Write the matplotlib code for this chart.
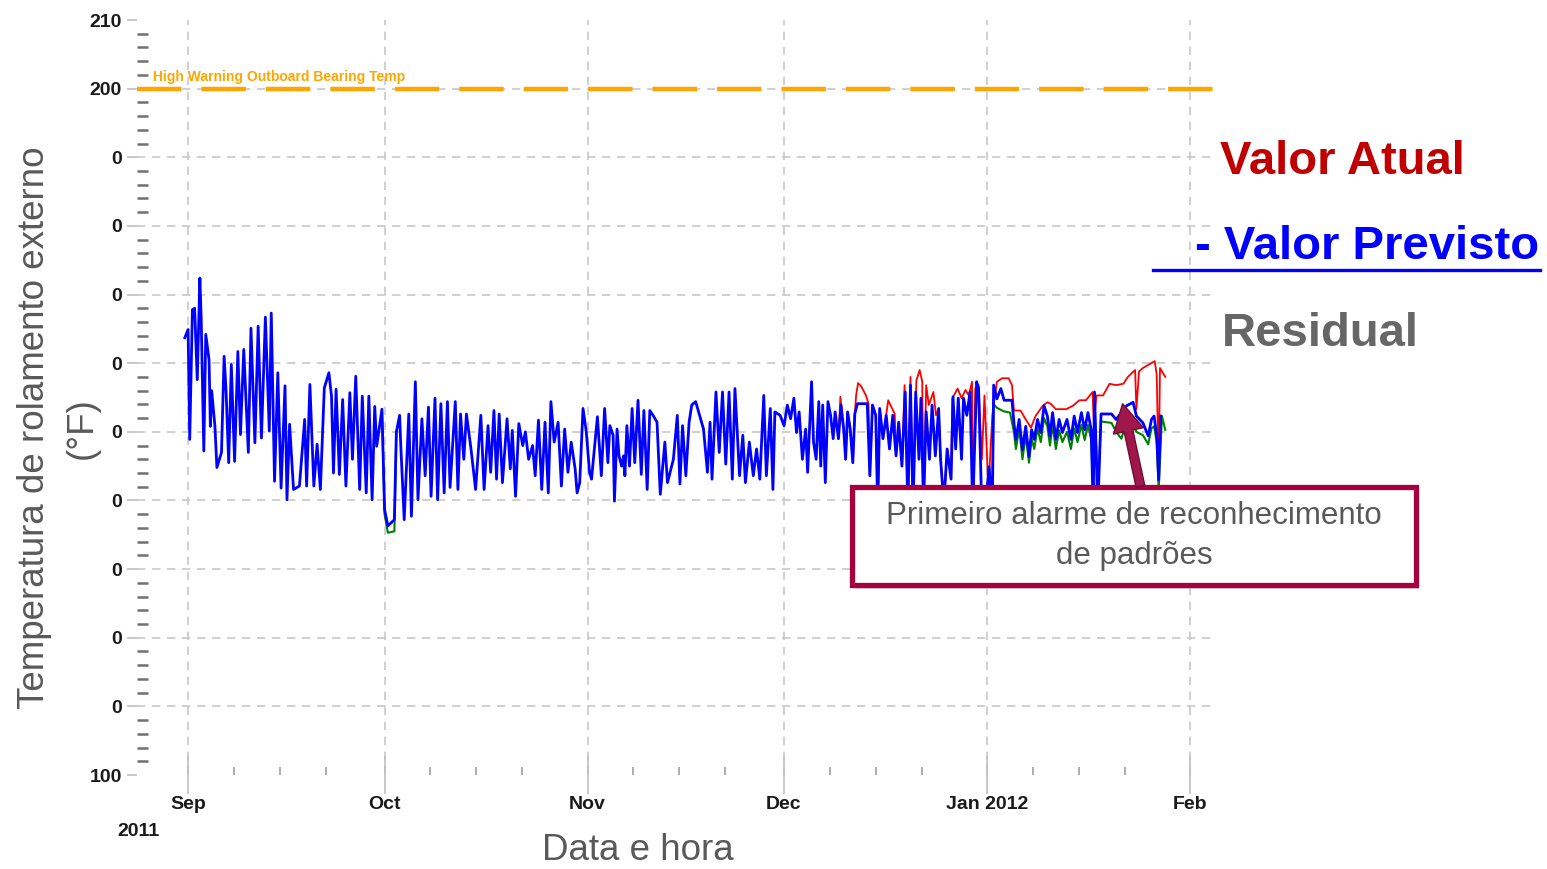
import matplotlib
matplotlib.use("Agg")
import matplotlib.pyplot as plt
from matplotlib.patches import Rectangle, FancyArrowPatch
from matplotlib.lines import Line2D
from matplotlib.ticker import FixedLocator, FixedFormatter

# days counted from 1 Sep 2011
month_starts = [0, 30, 61, 91, 122, 153]
month_labels = ["Sep", "Oct", "Nov", "Dec", "Jan 2012", "Feb"]
y_ticks = [100, 110, 120, 130, 140, 150, 160, 170, 180, 190, 200, 210]
y_labels = ["100", "0", "0", "0", "0", "0", "0", "0", "0", "0", "200", "210"]
warning_level = 200

# predicted value (blue)
blue_days = [
    -0.5, 0.0, 0.25, 0.66, 1.0, 1.4, 1.8, 2.0, 2.4, 2.7, 3.2, 3.4, 3.6, 4.1, 4.4, 5.1, 5.5, 5.8,
    6.2, 6.6, 7.1, 7.6, 8.0, 8.5, 9.2, 9.6, 10.2, 10.7, 11.2, 11.8, 12.4, 12.7, 13.2, 13.7, 14.2,
    14.8, 15.1, 15.5, 16.1, 17.0, 17.8, 18.1, 18.6, 19.2, 19.7, 20.2, 20.8, 21.5, 21.9, 22.2, 22.6,
    23.1, 23.6, 24.1, 24.7, 25.1, 25.6, 26.2, 26.6, 27.2, 27.6, 28.1, 28.5, 28.8, 29.6,
    30.0, 30.5, 31.5, 31.8, 32.3, 32.5, 33.0, 33.7, 34.1, 34.7, 35.1, 35.7, 36.2, 36.7, 37.1, 37.7,
    38.1, 38.6, 39.1, 39.6, 40.0, 40.8, 41.2, 41.6, 42.1, 42.5, 43.2, 43.9, 44.7, 45.2, 45.8, 46.2,
    46.7, 47.1, 47.5, 48.0, 48.7, 49.2, 49.5, 50.0, 50.5, 51.1, 51.5, 52.0, 52.6, 53.0, 53.5, 54.0,
    54.5, 55.0, 55.4, 55.9, 56.5, 57.0, 57.5, 58.0, 58.5, 59.1, 59.4, 59.8, 60.3, 60.8, 61.3, 61.6,
    62.5, 63.1, 63.6, 64.1, 64.4, 64.9, 65.1, 65.5, 65.8, 66.2, 66.5, 66.7, 67.0, 67.4, 67.8, 68.2,
    68.7, 69.2, 69.6, 70.1, 70.5, 71.0, 71.6, 72.1, 72.8, 73.2, 73.6, 74.1, 74.7, 75.1, 75.5, 76.0,
    76.5, 76.9, 77.5, 78.1, 78.7, 79.3, 79.7, 80.0, 80.6, 81.1, 81.6, 82.1, 82.6, 83.1, 83.5, 84.2,
    84.7, 85.1, 85.7, 86.3, 86.8, 87.3, 87.9, 88.3, 88.9, 89.3, 89.6, 90.4,
    91.0, 91.5, 92.0, 92.5, 92.9, 93.3, 93.8, 94.3, 94.6, 95.2, 95.5, 95.9, 96.3, 96.6, 96.9, 97.3,
    97.7, 98.1, 98.5, 98.8, 99.3, 99.7, 100.1, 100.4, 100.7, 101.1, 101.5, 101.8, 102.2, 103.7,
    104.1, 104.5, 105.0, 105.3, 105.6, 106.1, 106.6, 107.1, 107.6, 108.1, 108.5, 109.0, 109.5,
    109.9, 110.3, 110.7, 111.1, 111.6, 111.9, 112.3, 112.7, 113.2, 113.6, 114.1, 114.6, 114.9,
    115.4, 115.9, 116.5, 116.8, 117.2, 117.6, 118.1, 118.4, 118.9, 119.4, 119.8, 120.4,
    120.7, 121.2, 121.7, 122.3, 122.8, 123.0, 123.5, 124.1, 124.6, 125.8, 126.1, 126.4, 126.9,
    127.4, 127.9, 128.4, 128.8, 129.2, 129.7, 130.2, 130.7, 131.2, 131.6, 132.0, 132.5, 133.0,
    133.5, 134.2, 134.8, 135.3, 135.8, 136.4, 136.9, 137.4, 137.9, 138.2, 138.4, 138.9, 139.4,
    141.0, 141.7, 143.3, 144.3, 144.8, 145.8, 146.6, 147.1, 147.5, 147.9, 148.2, 148.5,
]
blue_vals = [
    163.7, 164.9, 148.9, 167.8, 168.0, 157.6, 172.4, 166.6, 147.2, 164.2, 160.5, 150.8, 156.0, 150.8, 144.8, 147.0, 161.0, 156.0,
    145.5, 159.8, 145.7, 161.7, 149.6, 162.0, 147.0, 165.1, 148.4, 165.4, 149.1, 166.7, 150.1, 167.3, 142.8, 158.6, 141.8,
    156.7, 140.1, 151.1, 141.6, 142.1, 151.8, 142.1, 156.9, 142.1, 148.2, 141.6, 156.4, 158.6, 155.2, 144.0, 156.2,
    143.8, 154.7, 142.1, 155.7, 146.0, 158.1, 141.6, 155.2, 141.1, 155.2, 140.1, 153.7, 147.9, 153.3,
    138.7, 136.3, 137.2, 150.0, 152.4, 147.5, 137.2, 152.6, 137.7, 157.3, 140.1, 151.9, 143.6, 153.6, 140.6, 154.9,
    140.1, 154.1, 141.1, 154.4, 141.9, 154.4, 141.6, 152.6, 146.0, 152.6, 147.5, 141.6, 152.4, 141.6, 150.9, 144.1,
    153.1, 143.1, 152.6, 142.6, 151.9, 144.6, 150.2, 140.6, 151.2, 148.0, 150.0, 146.0, 148.0, 143.6, 151.7, 141.6,
    151.4, 141.1, 154.4, 148.5, 151.4, 142.1, 150.4, 144.1, 148.5, 144.6, 141.1, 142.6, 153.4, 150.0, 144.1, 143.1,
    152.2, 143.6, 153.4, 145.5, 150.9, 149.5, 139.9, 150.4, 146.5, 145.0, 146.5, 143.6, 150.9, 145.0, 153.4, 145.5,
    154.6, 143.8, 153.1, 141.6, 153.1, 152.4, 151.4, 140.9, 148.5, 142.6, 144.1, 146.0, 152.4, 142.4, 150.9, 143.6,
    151.4, 153.9, 154.4, 152.4, 150.4, 144.1, 151.4, 143.1, 155.8, 147.0, 155.8, 145.3, 155.8, 143.1, 156.3, 143.6,
    149.5, 142.6, 148.5, 143.6, 147.5, 143.1, 155.3, 143.6, 153.4, 141.6, 152.9, 152.4,
    150.9, 153.9, 151.9, 154.9, 149.9, 152.9, 146.0, 150.4, 144.1, 157.3, 148.5, 146.0, 154.4, 145.0, 153.9, 142.6,
    154.4, 152.4, 149.0, 152.9, 149.0, 153.9, 150.4, 146.0, 152.9, 150.4, 145.5, 152.6, 154.1, 154.1,
    143.6, 153.9, 152.4, 138.5, 153.4, 149.0, 152.4, 147.5, 152.4, 146.5, 151.4, 145.0, 155.8,
    139.0, 156.8, 138.5, 155.8, 146.0, 154.9, 139.0, 152.9, 146.0, 153.9, 146.5, 153.4, 146.0,
    139.5, 147.5, 143.1, 155.1, 147.5, 154.9, 146.0, 154.9, 152.4, 155.8, 138.5, 157.3,
    156.3, 138.5, 138.5, 144.9, 138.5, 156.8, 154.8, 156.3, 154.6, 154.6, 151.3, 148.9, 151.8,
    147.4, 150.8, 146.4, 150.3, 148.9, 151.8, 149.9, 153.8, 152.3, 149.4, 152.8, 148.9, 151.8,
    149.9, 151.8, 148.9, 152.3, 149.9, 152.8, 150.3, 152.8, 150.3, 138.5, 155.8, 138.5, 152.6,
    152.6, 151.8, 153.8, 154.3, 152.3, 151.3, 149.4, 151.8, 152.3, 149.4, 143.0, 152.3,
]

# actual value (red), where it separates from the prediction
red_days = [
    99.3, 99.6, 100.1, 100.4, 100.7, 101.1, 101.5, 101.8, 102.0, 102.3, 102.8, 103.5, 103.9, 104.1,
    104.5, 105.0, 105.3, 105.6, 106.1, 106.9, 107.9, 108.1, 108.5, 109.0, 109.4, 109.9, 110.3,
    110.7, 111.2, 111.7, 112.1, 112.3, 112.7, 113.1, 113.8, 114.2, 114.6, 114.9, 115.4, 115.9,
    116.5, 116.7, 117.5, 118.1, 118.7, 119.2, 119.7, 119.8, 120.2, 120.7, 121.2, 121.6, 122.2,
    122.8, 123.5, 124.3, 125.3, 125.8, 126.1, 127.1, 127.9, 128.7, 129.4, 130.5, 131.2, 131.7,
    132.5, 134.1, 135.1, 136.1, 137.1, 138.1, 138.3, 138.7, 139.7, 140.7, 141.7, 142.8, 143.5,
    144.6, 144.8, 145.2, 145.8, 147.6, 147.9, 148.2, 148.4, 149.2,
]
red_vals = [
    149.0, 155.1, 150.4, 146.0, 152.9, 150.4, 145.5, 152.6, 155.3, 157.1, 156.6, 155.3, 154.1, 143.6,
    153.9, 152.4, 138.5, 153.4, 149.0, 154.6, 152.6, 146.5, 151.4, 145.0, 156.8, 139.0, 158.0,
    138.5, 157.5, 159.0, 157.3, 139.0, 156.8, 153.9, 155.8, 152.4, 153.4, 146.0, 139.5, 147.5,
    143.1, 154.9, 156.3, 154.9, 156.1, 155.3, 157.3, 138.5, 156.3, 156.8, 146.0, 155.3, 141.6,
    152.4, 157.3, 157.8, 157.8, 156.8, 153.1, 153.1, 151.8, 150.6, 152.3, 153.8, 154.3, 154.1,
    153.3, 153.3, 153.8, 154.6, 154.6, 155.8, 151.3, 155.3, 155.3, 157.0, 156.8, 157.0, 158.0,
    159.0, 153.3, 158.8, 159.3, 160.3, 158.3, 143.9, 159.3, 158.0,
]

# green series, visible below the blue one (two stretches)
green_oct_days = [29.6, 30.0, 30.5, 31.5, 31.8]
green_oct_vals = [153.0, 138.0, 135.3, 135.5, 150.0]
green_jan_days = [
    122.3, 122.8, 123.0, 123.5, 124.5, 125.5, 126.1, 126.4, 126.9, 127.4, 127.9, 128.4, 128.8,
    129.2, 129.7, 130.2, 130.7, 131.2, 131.6, 132.0, 132.5, 133.0, 133.5, 134.2, 134.8, 135.3,
    135.8, 136.4, 136.9, 137.4, 137.9, 138.2, 138.4, 138.9, 139.4, 141.0, 141.7, 142.5, 143.3,
    144.3, 144.8, 145.8, 146.6, 147.1, 147.5, 147.9, 148.2, 148.7, 149.2,
]
green_jan_vals = [
    144.5, 141.5, 154.0, 153.5, 153.0, 152.8, 150.0, 147.5, 150.5, 146.0, 149.5, 145.5, 149.0,
    147.5, 150.5, 148.5, 152.0, 150.8, 148.0, 151.0, 147.5, 150.2, 148.5, 150.0, 147.5, 150.5,
    148.5, 151.0, 148.8, 151.0, 148.8, 141.0, 154.5, 141.5, 151.5, 151.3, 150.0, 149.0, 151.5,
    151.0, 150.0, 149.5, 148.2, 150.5, 150.8, 148.5, 141.5, 152.3, 150.3,
]

W, H = 1547, 869


def fx(x):
    return x / W


def fy(y):
    return 1 - y / H


sans = ["Liberation Sans", "DejaVu Sans"]

fig = plt.figure(figsize=(W / 100, H / 100), dpi=100)
ax = fig.add_axes([fx(137), fy(775), fx(1215) - fx(137), fy(20) - fy(775)])
ax.set_xlim(-7.8, 156.8)
ax.set_ylim(100, 210)
for s in ax.spines.values():
    s.set_visible(False)

# grid
for v in y_ticks[1:-1]:
    ax.axhline(v, color="#c8c8c8", lw=1.2, dashes=(5, 4), zorder=0)
for m in month_starts:
    ax.axvline(m, color="#c8c8c8", lw=1.2, dashes=(5, 4), zorder=0)

# warning limit
ax.axhline(warning_level, color="#FFA500", lw=3.2, dashes=(10, 4.5), zorder=2)
ax.text(-5.3, 201.7, "High Warning Outboard Bearing Temp", color="#FFA500", fontsize=10,
        fontweight="bold", family=sans, va="center", ha="left")

ax.plot(red_days, red_vals, color="#FF0000", lw=1.3, zorder=3)
ax.plot(green_oct_days, green_oct_vals, color="#008000", lw=1.5, zorder=3)
ax.plot(green_jan_days, green_jan_vals, color="#008000", lw=1.5, zorder=3)
ax.plot(blue_days, blue_vals, color="#0000FF", lw=2.0, zorder=4)

# ticks
ax.xaxis.set_major_locator(FixedLocator(month_starts))
ax.xaxis.set_major_formatter(FixedFormatter(month_labels))
minor_x = [m + d for m in month_starts[:-1] for d in (7, 14, 21)]
ax.xaxis.set_minor_locator(FixedLocator(minor_x))
ax.tick_params(axis="x", which="major", direction="inout", length=28, width=1.2,
               color="#c0c0c0", pad=1)
ax.tick_params(axis="x", which="minor", direction="in", length=6, width=1.2, color="#a0a0a0")
ax.yaxis.set_major_locator(FixedLocator(y_ticks))
ax.yaxis.set_major_formatter(FixedFormatter(y_labels))
ax.yaxis.set_minor_locator(FixedLocator([v for v in range(100, 211, 2) if v % 10]))
ax.tick_params(axis="y", which="major", direction="out", length=7, width=1.2,
               color="#c0c0c0", pad=4)
ax.tick_params(axis="y", which="minor", direction="in", length=8, width=1.8, color="#707070")
for lab in ax.get_xticklabels() + ax.get_yticklabels():
    lab.set_family(sans)
    lab.set_fontweight("bold")
    lab.set_fontsize(14)
    lab.set_color("#1a1a1a")

fig.text(fx(138), fy(831), "2011", family=sans, fontweight="bold", fontsize=14,
         color="#1a1a1a", ha="center", va="center")

# axis titles
fig.text(fx(35), fy(428), "Temperatura de rolamento externo", rotation=90, fontsize=26.5,
         family=sans, color="#595959", ha="center", va="center")
fig.text(fx(82), fy(428), "(°F)", rotation=90, fontsize=26.5, family=sans, color="#595959",
         ha="center", va="center")
fig.text(fx(638), fy(851), "Data e hora", fontsize=26.5, family=sans, color="#595959",
         ha="center", va="center")

# legend text on the right
fig.text(fx(1220), fy(162), "Valor Atual", fontsize=34, fontweight="bold", family=sans,
         color="#C00000", ha="left", va="center")
fig.text(fx(1195), fy(247), "- Valor Previsto", fontsize=34, fontweight="bold", family=sans,
         color="#0000FF", ha="left", va="center")
fig.add_artist(Line2D([fx(1153), fx(1540)], [fy(270), fy(270)], color="#0000FF", lw=2.4))
fig.text(fx(1222), fy(334), "Residual", fontsize=34, fontweight="bold", family=sans,
         color="#666666", ha="left", va="center")

# annotation box and arrow
fig.add_artist(Rectangle((fx(855), fy(589)), fx(1416) - fx(852), fy(487) - fy(585),
                         facecolor="#bbbbbb", edgecolor="none", alpha=0.5, zorder=5))
fig.add_artist(Rectangle((fx(852), fy(585)), fx(1416) - fx(852), fy(487) - fy(585),
                         facecolor="white", edgecolor="#A8003E", lw=3.8, zorder=6))
fig.text(fx(1134), fy(536), "Primeiro alarme de reconhecimento\nde padrões", fontsize=22.5,
         family=sans, color="#595959", ha="center", va="center", linespacing=1.4, zorder=7)
fig.add_artist(FancyArrowPatch((fx(1141), fy(489)), (fx(1122), fy(401)),
                               transform=fig.transFigure,
                               arrowstyle="simple,head_width=1.1,head_length=1.0,tail_width=0.32",
                               mutation_scale=20, facecolor="#A0184B", edgecolor="#6e0f33",
                               lw=1, zorder=7))

fig.savefig("out.png", dpi=100)
